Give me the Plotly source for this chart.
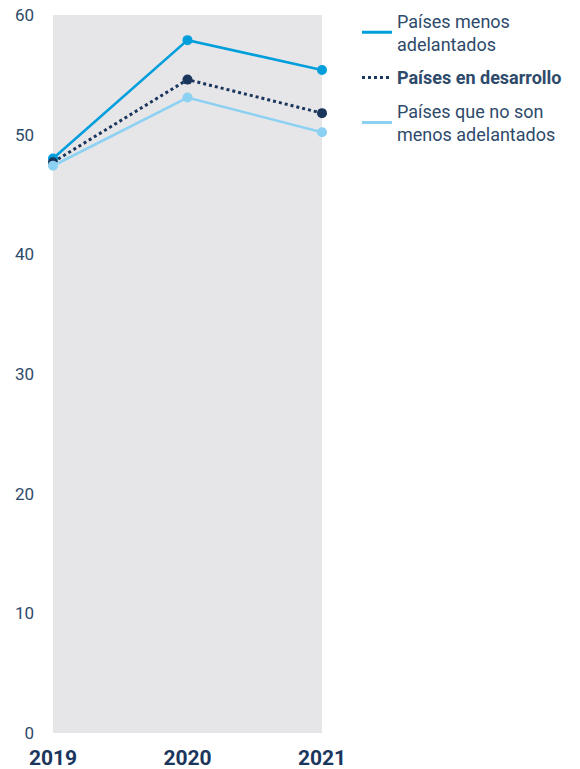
import plotly.graph_objects as go

years = [2019, 2020, 2021]
ldc = [48.0, 57.9, 55.4]
developing = [47.7, 54.6, 51.8]
non_ldc = [47.4, 53.1, 50.2]

names = ["Países menos<br>adelantados", "<b>Países en desarrollo</b>", "Países que no son<br>menos adelantados"]
colors = ["#009EDB", "#1B365D", "#8CD1F2"]
dashes = ["solid", "dot", "solid"]
series = [ldc, developing, non_ldc]

fig = go.Figure()
for name, vals, c, d in zip(names, series, colors, dashes):
    fig.add_trace(go.Scatter(
        x=years, y=vals, name=name, mode="lines+markers", showlegend=False,
        line=dict(color=c, width=2.6 if d == "solid" else 3, dash=d),
        marker=dict(size=10, color=c), cliponaxis=False,
    ))
# legend entries (line only)
for i, (name, c, d) in enumerate(zip(names, colors, dashes)):
    fig.add_trace(go.Scatter(
        x=[None], y=[None], name=name, mode="lines", legendgroup=f"g{i}",
        line=dict(color=c, width=3, dash=d),
    ))

fig.update_layout(
    width=580, height=769,
    margin=dict(l=53, r=258, t=15, b=36, autoexpand=False),
    paper_bgcolor="white", plot_bgcolor="#E6E6E9",
    font=dict(family="Roboto, Liberation Sans, sans-serif", color="#2E4A6B"),
    showlegend=True,
    legend=dict(x=1.13, y=1.0175, xanchor="left", yanchor="top",
                font=dict(size=18, color="#2E4A6B"), itemwidth=30,
                tracegroupgap=7, bgcolor="rgba(0,0,0,0)"),
    xaxis=dict(range=[2019, 2021], tickvals=years, ticktext=[str(y) for y in years],
               showgrid=False, zeroline=False, showline=False, ticks="",
               ticklabelstandoff=10, automargin=False, ticklabeloverflow="allow",
               tickfont=dict(size=21, color="#1B365D", family="Roboto, Liberation Sans, sans-serif", weight="bold")),
    yaxis=dict(range=[0, 60], tickvals=[0, 10, 20, 30, 40, 50, 60], showgrid=False,
               zeroline=False, showline=False, ticks="", ticklabelstandoff=18,
               automargin=False, ticklabeloverflow="allow",
               tickfont=dict(size=17, color="#2E4A6B")),
)
fig.write_html("out.html", config={"displayModeBar": False},
               post_script="document.body.style.margin='0';document.body.style.overflow='hidden';")
